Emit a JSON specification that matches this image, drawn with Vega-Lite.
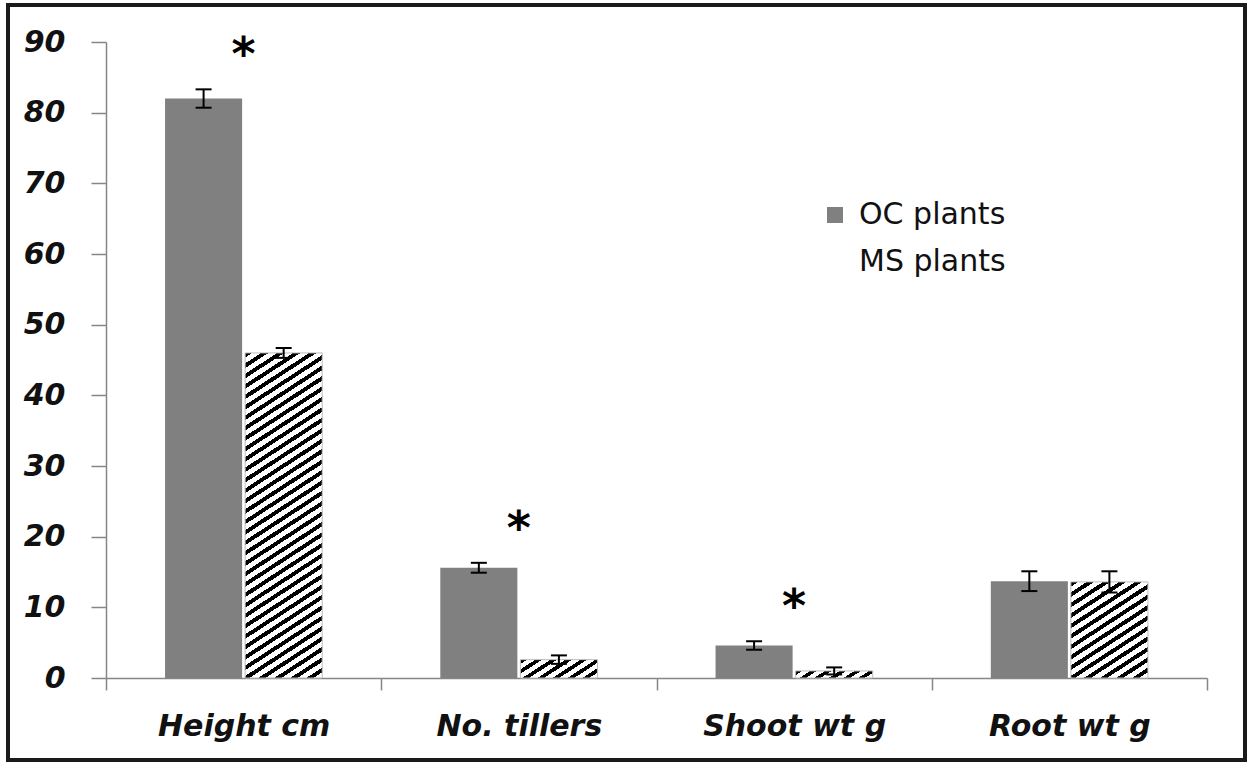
{
"$schema": "https://vega.github.io/schema/vega-lite/v6.json",
"width": 1237, "height": 755,
"autosize": {"type": "none"},
"padding": {"left": 8, "top": 5, "right": 3, "bottom": 4},
"background": "white",
"config": {
  "view": {"stroke": "#1a1a1a", "strokeWidth": 4},
  "axis": {"domainColor": "#868686", "domainWidth": 1.5, "tickColor": "#868686", "tickWidth": 1.5, "labelFont": "DejaVu Sans", "labelFontSize": 30, "labelFontWeight": "bold", "labelFontStyle": "italic", "labelColor": "#111111", "grid": false, "labelLimit": 0},
  "axisY": {"offset": -98, "tickSize": 15, "labelPadding": 26},
  "axisX": {"offset": -82, "tickSize": 12, "labelPadding": 21, "tickBand": "extent", "labelAngle": 0}
},
"data": {"values": [
  {"cat": "Height cm", "series": "OC plants", "mean": 82, "err": 1.3, "sig": "*"},
  {"cat": "Height cm", "series": "MS plants", "mean": 46, "err": 0.7, "sig": ""},
  {"cat": "No. tillers", "series": "OC plants", "mean": 15.6, "err": 0.7, "sig": "*"},
  {"cat": "No. tillers", "series": "MS plants", "mean": 2.6, "err": 0.6, "sig": ""},
  {"cat": "Shoot wt g", "series": "OC plants", "mean": 4.6, "err": 0.6, "sig": "*"},
  {"cat": "Shoot wt g", "series": "MS plants", "mean": 1.0, "err": 0.5, "sig": ""},
  {"cat": "Root wt g", "series": "OC plants", "mean": 13.7, "err": 1.4, "sig": ""},
  {"cat": "Root wt g", "series": "MS plants", "mean": 13.6, "err": 1.5, "sig": ""}
]},
"transform": [
  {"calculate": "datum.mean - datum.err", "as": "lo"},
  {"calculate": "datum.mean + datum.err", "as": "hi"}
],
"encoding": {
  "x": {"field": "cat", "type": "nominal", "title": null, "sort": ["Height cm", "No. tillers", "Shoot wt g", "Root wt g"], "scale": {"range": [98, 1199], "paddingInner": 0, "paddingOuter": 0}},
  "y": {"field": "mean", "type": "quantitative", "title": null, "scale": {"domain": [0, 90], "range": [673, 37], "nice": false}, "axis": {"values": [0, 10, 20, 30, 40, 50, 60, 70, 80, 90]}}
},
"layer": [
  {
    "transform": [{"filter": "datum.series === 'OC plants'"}],
    "mark": {"type": "bar"},
    "encoding": {
      "xOffset": {"field": "series", "type": "nominal", "scale": {"domain": ["OC plants", "MS plants"], "paddingInner": 0.0375, "paddingOuter": 0.7375}},
      "fill": {"field": "series", "type": "nominal",
        "scale": {"domain": ["OC plants", "MS plants"], "range": ["#808080", "#ffffff"]},
        "legend": {"title": null, "orient": "none", "legendX": 812, "legendY": 195, "symbolType": "square", "symbolSize": 256, "labelFont": "DejaVu Sans", "labelFontSize": 30, "labelColor": "#111111", "labelOffset": 9, "rowPadding": 17, "padding": 0,
          "encode": {"symbols": {"update": {
            "stroke": {"condition": {"test": "datum.value === 'MS plants'", "value": "#000000"}, "value": "transparent"},
            "strokeWidth": {"value": 1.5}
          }}}
        }
      }
    }
  },
  {
    "transform": [{"filter": "datum.series === 'MS plants' && datum.cat === 'Height cm'"}],
    "mark": {"type": "bar", "stroke": "#bdbdbd", "strokeWidth": 1, "fill": {"gradient": "linear", "x1": 0, "y1": 0, "x2": 0.1737, "y2": 1.1273, "stops": [
      {"offset": 0, "color": "#000"}, {"offset": 0.0125, "color": "#000"}, {"offset": 0.0125, "color": "#fff"}, {"offset": 0.0278, "color": "#fff"},
      {"offset": 0.0278, "color": "#000"}, {"offset": 0.0403, "color": "#000"}, {"offset": 0.0403, "color": "#fff"}, {"offset": 0.0556, "color": "#fff"},
      {"offset": 0.0556, "color": "#000"}, {"offset": 0.0681, "color": "#000"}, {"offset": 0.0681, "color": "#fff"}, {"offset": 0.0833, "color": "#fff"},
      {"offset": 0.0833, "color": "#000"}, {"offset": 0.0958, "color": "#000"}, {"offset": 0.0958, "color": "#fff"}, {"offset": 0.1111, "color": "#fff"},
      {"offset": 0.1111, "color": "#000"}, {"offset": 0.1236, "color": "#000"}, {"offset": 0.1236, "color": "#fff"}, {"offset": 0.1389, "color": "#fff"},
      {"offset": 0.1389, "color": "#000"}, {"offset": 0.1514, "color": "#000"}, {"offset": 0.1514, "color": "#fff"}, {"offset": 0.1667, "color": "#fff"},
      {"offset": 0.1667, "color": "#000"}, {"offset": 0.1792, "color": "#000"}, {"offset": 0.1792, "color": "#fff"}, {"offset": 0.1944, "color": "#fff"},
      {"offset": 0.1944, "color": "#000"}, {"offset": 0.2069, "color": "#000"}, {"offset": 0.2069, "color": "#fff"}, {"offset": 0.2222, "color": "#fff"},
      {"offset": 0.2222, "color": "#000"}, {"offset": 0.2347, "color": "#000"}, {"offset": 0.2347, "color": "#fff"}, {"offset": 0.25, "color": "#fff"},
      {"offset": 0.25, "color": "#000"}, {"offset": 0.2625, "color": "#000"}, {"offset": 0.2625, "color": "#fff"}, {"offset": 0.2778, "color": "#fff"},
      {"offset": 0.2778, "color": "#000"}, {"offset": 0.2903, "color": "#000"}, {"offset": 0.2903, "color": "#fff"}, {"offset": 0.3056, "color": "#fff"},
      {"offset": 0.3056, "color": "#000"}, {"offset": 0.3181, "color": "#000"}, {"offset": 0.3181, "color": "#fff"}, {"offset": 0.3333, "color": "#fff"},
      {"offset": 0.3333, "color": "#000"}, {"offset": 0.3458, "color": "#000"}, {"offset": 0.3458, "color": "#fff"}, {"offset": 0.3611, "color": "#fff"},
      {"offset": 0.3611, "color": "#000"}, {"offset": 0.3736, "color": "#000"}, {"offset": 0.3736, "color": "#fff"}, {"offset": 0.3889, "color": "#fff"},
      {"offset": 0.3889, "color": "#000"}, {"offset": 0.4014, "color": "#000"}, {"offset": 0.4014, "color": "#fff"}, {"offset": 0.4167, "color": "#fff"},
      {"offset": 0.4167, "color": "#000"}, {"offset": 0.4292, "color": "#000"}, {"offset": 0.4292, "color": "#fff"}, {"offset": 0.4444, "color": "#fff"},
      {"offset": 0.4444, "color": "#000"}, {"offset": 0.4569, "color": "#000"}, {"offset": 0.4569, "color": "#fff"}, {"offset": 0.4722, "color": "#fff"},
      {"offset": 0.4722, "color": "#000"}, {"offset": 0.4847, "color": "#000"}, {"offset": 0.4847, "color": "#fff"}, {"offset": 0.5, "color": "#fff"},
      {"offset": 0.5, "color": "#000"}, {"offset": 0.5125, "color": "#000"}, {"offset": 0.5125, "color": "#fff"}, {"offset": 0.5278, "color": "#fff"},
      {"offset": 0.5278, "color": "#000"}, {"offset": 0.5403, "color": "#000"}, {"offset": 0.5403, "color": "#fff"}, {"offset": 0.5556, "color": "#fff"},
      {"offset": 0.5556, "color": "#000"}, {"offset": 0.5681, "color": "#000"}, {"offset": 0.5681, "color": "#fff"}, {"offset": 0.5833, "color": "#fff"},
      {"offset": 0.5833, "color": "#000"}, {"offset": 0.5958, "color": "#000"}, {"offset": 0.5958, "color": "#fff"}, {"offset": 0.6111, "color": "#fff"},
      {"offset": 0.6111, "color": "#000"}, {"offset": 0.6236, "color": "#000"}, {"offset": 0.6236, "color": "#fff"}, {"offset": 0.6389, "color": "#fff"},
      {"offset": 0.6389, "color": "#000"}, {"offset": 0.6514, "color": "#000"}, {"offset": 0.6514, "color": "#fff"}, {"offset": 0.6667, "color": "#fff"},
      {"offset": 0.6667, "color": "#000"}, {"offset": 0.6792, "color": "#000"}, {"offset": 0.6792, "color": "#fff"}, {"offset": 0.6944, "color": "#fff"},
      {"offset": 0.6944, "color": "#000"}, {"offset": 0.7069, "color": "#000"}, {"offset": 0.7069, "color": "#fff"}, {"offset": 0.7222, "color": "#fff"},
      {"offset": 0.7222, "color": "#000"}, {"offset": 0.7347, "color": "#000"}, {"offset": 0.7347, "color": "#fff"}, {"offset": 0.75, "color": "#fff"},
      {"offset": 0.75, "color": "#000"}, {"offset": 0.7625, "color": "#000"}, {"offset": 0.7625, "color": "#fff"}, {"offset": 0.7778, "color": "#fff"},
      {"offset": 0.7778, "color": "#000"}, {"offset": 0.7903, "color": "#000"}, {"offset": 0.7903, "color": "#fff"}, {"offset": 0.8056, "color": "#fff"},
      {"offset": 0.8056, "color": "#000"}, {"offset": 0.8181, "color": "#000"}, {"offset": 0.8181, "color": "#fff"}, {"offset": 0.8333, "color": "#fff"},
      {"offset": 0.8333, "color": "#000"}, {"offset": 0.8458, "color": "#000"}, {"offset": 0.8458, "color": "#fff"}, {"offset": 0.8611, "color": "#fff"},
      {"offset": 0.8611, "color": "#000"}, {"offset": 0.8736, "color": "#000"}, {"offset": 0.8736, "color": "#fff"}, {"offset": 0.8889, "color": "#fff"},
      {"offset": 0.8889, "color": "#000"}, {"offset": 0.9014, "color": "#000"}, {"offset": 0.9014, "color": "#fff"}, {"offset": 0.9167, "color": "#fff"},
      {"offset": 0.9167, "color": "#000"}, {"offset": 0.9292, "color": "#000"}, {"offset": 0.9292, "color": "#fff"}, {"offset": 0.9444, "color": "#fff"},
      {"offset": 0.9444, "color": "#000"}, {"offset": 0.9569, "color": "#000"}, {"offset": 0.9569, "color": "#fff"}, {"offset": 0.9722, "color": "#fff"},
      {"offset": 0.9722, "color": "#000"}, {"offset": 0.9847, "color": "#000"}, {"offset": 0.9847, "color": "#fff"}, {"offset": 1, "color": "#fff"}
    ]}},
    "encoding": {"xOffset": {"field": "series", "type": "nominal", "scale": {"domain": ["OC plants", "MS plants"], "paddingInner": 0.0375, "paddingOuter": 0.7375}}}
  },
  {
    "transform": [{"filter": "datum.series === 'MS plants' && datum.cat === 'No. tillers'"}],
    "mark": {"type": "bar", "stroke": "#bdbdbd", "strokeWidth": 1, "fill": {"gradient": "linear", "x1": 0, "y1": 0, "x2": 1.2047, "y2": 0.4424, "stops": [
      {"offset": 0, "color": "#000"}, {"offset": 0.0643, "color": "#000"}, {"offset": 0.0643, "color": "#fff"}, {"offset": 0.1429, "color": "#fff"},
      {"offset": 0.1429, "color": "#000"}, {"offset": 0.2071, "color": "#000"}, {"offset": 0.2071, "color": "#fff"}, {"offset": 0.2857, "color": "#fff"},
      {"offset": 0.2857, "color": "#000"}, {"offset": 0.35, "color": "#000"}, {"offset": 0.35, "color": "#fff"}, {"offset": 0.4286, "color": "#fff"},
      {"offset": 0.4286, "color": "#000"}, {"offset": 0.4929, "color": "#000"}, {"offset": 0.4929, "color": "#fff"}, {"offset": 0.5714, "color": "#fff"},
      {"offset": 0.5714, "color": "#000"}, {"offset": 0.6357, "color": "#000"}, {"offset": 0.6357, "color": "#fff"}, {"offset": 0.7143, "color": "#fff"},
      {"offset": 0.7143, "color": "#000"}, {"offset": 0.7786, "color": "#000"}, {"offset": 0.7786, "color": "#fff"}, {"offset": 0.8571, "color": "#fff"},
      {"offset": 0.8571, "color": "#000"}, {"offset": 0.9214, "color": "#000"}, {"offset": 0.9214, "color": "#fff"}, {"offset": 1, "color": "#fff"}
    ]}},
    "encoding": {"xOffset": {"field": "series", "type": "nominal", "scale": {"domain": ["OC plants", "MS plants"], "paddingInner": 0.0375, "paddingOuter": 0.7375}}}
  },
  {
    "transform": [{"filter": "datum.series === 'MS plants' && datum.cat === 'Shoot wt g'"}],
    "mark": {"type": "bar", "stroke": "#bdbdbd", "strokeWidth": 1, "fill": {"gradient": "linear", "x1": 0, "y1": 0, "x2": 1.1217, "y2": 0.163, "stops": [
      {"offset": 0, "color": "#000"}, {"offset": 0.075, "color": "#000"}, {"offset": 0.075, "color": "#fff"}, {"offset": 0.1667, "color": "#fff"},
      {"offset": 0.1667, "color": "#000"}, {"offset": 0.2417, "color": "#000"}, {"offset": 0.2417, "color": "#fff"}, {"offset": 0.3333, "color": "#fff"},
      {"offset": 0.3333, "color": "#000"}, {"offset": 0.4083, "color": "#000"}, {"offset": 0.4083, "color": "#fff"}, {"offset": 0.5, "color": "#fff"},
      {"offset": 0.5, "color": "#000"}, {"offset": 0.575, "color": "#000"}, {"offset": 0.575, "color": "#fff"}, {"offset": 0.6667, "color": "#fff"},
      {"offset": 0.6667, "color": "#000"}, {"offset": 0.7417, "color": "#000"}, {"offset": 0.7417, "color": "#fff"}, {"offset": 0.8333, "color": "#fff"},
      {"offset": 0.8333, "color": "#000"}, {"offset": 0.9083, "color": "#000"}, {"offset": 0.9083, "color": "#fff"}, {"offset": 1, "color": "#fff"}
    ]}},
    "encoding": {"xOffset": {"field": "series", "type": "nominal", "scale": {"domain": ["OC plants", "MS plants"], "paddingInner": 0.0375, "paddingOuter": 0.7375}}}
  },
  {
    "transform": [{"filter": "datum.series === 'MS plants' && datum.cat === 'Root wt g'"}],
    "mark": {"type": "bar", "stroke": "#bdbdbd", "strokeWidth": 1, "fill": {"gradient": "linear", "x1": 0, "y1": 0, "x2": 0.6236, "y2": 1.1962, "stops": [
      {"offset": 0, "color": "#000"}, {"offset": 0.0321, "color": "#000"}, {"offset": 0.0321, "color": "#fff"}, {"offset": 0.0714, "color": "#fff"},
      {"offset": 0.0714, "color": "#000"}, {"offset": 0.1036, "color": "#000"}, {"offset": 0.1036, "color": "#fff"}, {"offset": 0.1429, "color": "#fff"},
      {"offset": 0.1429, "color": "#000"}, {"offset": 0.175, "color": "#000"}, {"offset": 0.175, "color": "#fff"}, {"offset": 0.2143, "color": "#fff"},
      {"offset": 0.2143, "color": "#000"}, {"offset": 0.2464, "color": "#000"}, {"offset": 0.2464, "color": "#fff"}, {"offset": 0.2857, "color": "#fff"},
      {"offset": 0.2857, "color": "#000"}, {"offset": 0.3179, "color": "#000"}, {"offset": 0.3179, "color": "#fff"}, {"offset": 0.3571, "color": "#fff"},
      {"offset": 0.3571, "color": "#000"}, {"offset": 0.3893, "color": "#000"}, {"offset": 0.3893, "color": "#fff"}, {"offset": 0.4286, "color": "#fff"},
      {"offset": 0.4286, "color": "#000"}, {"offset": 0.4607, "color": "#000"}, {"offset": 0.4607, "color": "#fff"}, {"offset": 0.5, "color": "#fff"},
      {"offset": 0.5, "color": "#000"}, {"offset": 0.5321, "color": "#000"}, {"offset": 0.5321, "color": "#fff"}, {"offset": 0.5714, "color": "#fff"},
      {"offset": 0.5714, "color": "#000"}, {"offset": 0.6036, "color": "#000"}, {"offset": 0.6036, "color": "#fff"}, {"offset": 0.6429, "color": "#fff"},
      {"offset": 0.6429, "color": "#000"}, {"offset": 0.675, "color": "#000"}, {"offset": 0.675, "color": "#fff"}, {"offset": 0.7143, "color": "#fff"},
      {"offset": 0.7143, "color": "#000"}, {"offset": 0.7464, "color": "#000"}, {"offset": 0.7464, "color": "#fff"}, {"offset": 0.7857, "color": "#fff"},
      {"offset": 0.7857, "color": "#000"}, {"offset": 0.8179, "color": "#000"}, {"offset": 0.8179, "color": "#fff"}, {"offset": 0.8571, "color": "#fff"},
      {"offset": 0.8571, "color": "#000"}, {"offset": 0.8893, "color": "#000"}, {"offset": 0.8893, "color": "#fff"}, {"offset": 0.9286, "color": "#fff"},
      {"offset": 0.9286, "color": "#000"}, {"offset": 0.9607, "color": "#000"}, {"offset": 0.9607, "color": "#fff"}, {"offset": 1, "color": "#fff"}
    ]}},
    "encoding": {"xOffset": {"field": "series", "type": "nominal", "scale": {"domain": ["OC plants", "MS plants"], "paddingInner": 0.0375, "paddingOuter": 0.7375}}}
  },
  {
    "mark": {"type": "rule", "color": "#000000", "strokeWidth": 2},
    "encoding": {
      "xOffset": {"field": "series", "type": "nominal", "scale": {"domain": ["OC plants", "MS plants"], "paddingInner": 0.0375, "paddingOuter": 0.7375}},
      "y": {"field": "lo", "type": "quantitative", "title": null},
      "y2": {"field": "hi"}
    }
  },
  {
    "mark": {"type": "tick", "color": "#000000", "thickness": 2, "size": 16, "orient": "horizontal", "opacity": 1},
    "encoding": {
      "xOffset": {"field": "series", "type": "nominal", "scale": {"domain": ["OC plants", "MS plants"], "paddingInner": 0.0375, "paddingOuter": 0.7375}},
      "y": {"field": "hi", "type": "quantitative", "title": null}
    }
  },
  {
    "mark": {"type": "tick", "color": "#000000", "thickness": 2, "size": 16, "orient": "horizontal", "opacity": 1},
    "encoding": {
      "xOffset": {"field": "series", "type": "nominal", "scale": {"domain": ["OC plants", "MS plants"], "paddingInner": 0.0375, "paddingOuter": 0.7375}},
      "y": {"field": "lo", "type": "quantitative", "title": null}
    }
  },
  {
    "transform": [{"filter": "datum.sig !== ''"}],
    "mark": {"type": "text", "font": "DejaVu Sans", "fontSize": 46, "fontWeight": "bold", "dy": -19, "baseline": "alphabetic", "align": "center", "color": "#000000"},
    "encoding": {
      "y": {"field": "hi", "type": "quantitative", "title": null},
      "text": {"field": "sig"}
    }
  }
]
}
